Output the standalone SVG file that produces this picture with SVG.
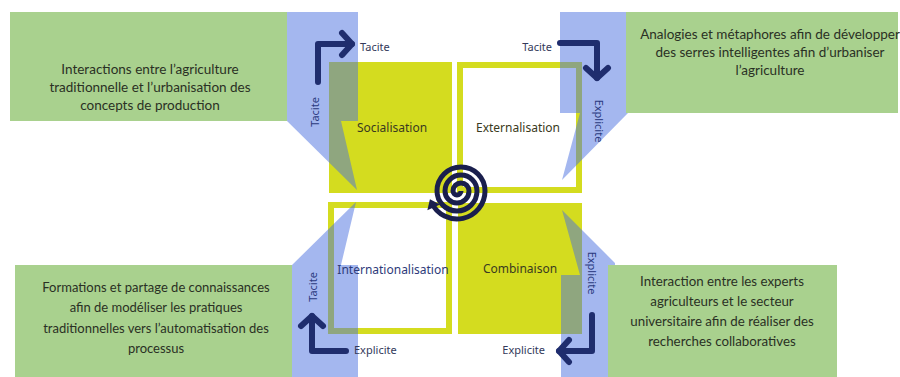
<svg xmlns="http://www.w3.org/2000/svg" width="900" height="377" viewBox="0 0 900 377">
<style>
.green{fill:#a9d18e}
.blue{fill:#4a70e0;fill-opacity:0.5}
.ysolid{fill:#d4dc1f}
.yline{fill:none;stroke:#d4dc1f;stroke-width:6}
.box{font-family:Lato,"Liberation Sans",sans-serif;font-size:13.5px;fill:#2a3024;text-anchor:middle}
.quad{font-family:"Noto Sans","Liberation Sans",sans-serif;font-size:12px;fill:#3a3a20;text-anchor:middle}
.qblue{fill:#2e3b7a}
.lbl{font-family:"Noto Sans","Liberation Sans",sans-serif;font-size:11px;fill:#33395a}
.vlbl{font-family:"Noto Sans","Liberation Sans",sans-serif;font-size:11px;fill:#2b3a80;text-anchor:middle}
.arrow{fill:none;stroke:#1f2d6e;stroke-width:6;stroke-linecap:round;stroke-linejoin:round;marker-end:url(#chev)}
.spiral{fill:none;stroke:#1a1f4d;stroke-width:5;marker-end:url(#shead)}
</style>
<defs>
<marker id="chev" markerUnits="userSpaceOnUse" markerWidth="30" markerHeight="30" viewBox="-15 -15 30 30" refX="0" refY="0" orient="auto">
<path d="M-10,-11 L0,0 L-10,11" fill="none" stroke="#1f2d6e" stroke-width="6" stroke-linecap="round" stroke-linejoin="round"/>
</marker>
<marker id="shead" markerUnits="userSpaceOnUse" markerWidth="20" markerHeight="20" viewBox="-10 -10 20 20" refX="0" refY="0" orient="auto">
<path d="M-5,-7 L4,0 L-5,7 Z" fill="#1a1f4d"/>
</marker>
</defs>
<rect width="900" height="377" fill="#ffffff"/>

<g id="socialisation">
<rect class="ysolid" x="329" y="62" width="123" height="131"/>
</g>
<g id="externalisation">
<rect class="yline" x="460" y="65" width="119" height="125"/>
</g>
<g id="internationalisation">
<rect class="yline" x="331" y="205" width="118" height="126"/>
</g>
<g id="combinaison">
<rect class="ysolid" x="458" y="203" width="124" height="131"/>
</g>

<g id="callout-tl">
<polygon class="blue" points="260,12 358,12 358,121 341,121 357,190 287,121 260,121"/>
<rect class="green" x="10" y="12" width="277" height="109"/>
<text class="box"><tspan x="150" y="74">Interactions entre l’agriculture</tspan><tspan x="150" y="92">traditionnelle et l’urbanisation des</tspan><tspan x="150" y="110">concepts de production</tspan></text>
</g>
<g id="callout-tr">
<polygon class="blue" points="560,12 640,12 640,113 628,113 562,180 580,113 560,113"/>
<rect class="green" x="626" y="12" width="272" height="101"/>
<text class="box"><tspan x="770" y="39">Analogies et métaphores afin de développer</tspan><tspan x="770" y="57">des serres intelligentes afin d’urbaniser</tspan><tspan x="770" y="75">l’agriculture</tspan></text>
</g>
<g id="callout-bl">
<polygon class="blue" points="270,265 292,265 356,202 341,265 358,265 358,377 270,377"/>
<rect class="green" x="15" y="265" width="277" height="112"/>
<text class="box" style="font-size:13px"><tspan x="156" y="292">Formations et partage de connaissances</tspan><tspan x="156" y="312">afin de modéliser les pratiques</tspan><tspan x="156" y="333">traditionnelles vers l’automatisation des</tspan><tspan x="156" y="353">processus</tspan></text>
</g>
<g id="callout-br">
<polygon class="blue" points="561,275 580,275 562,210 615,263 615,377 561,377"/>
<rect class="green" x="608" y="265" width="229" height="112"/>
<text class="box" style="font-size:13.3px"><tspan x="722" y="286">Interaction entre les experts</tspan><tspan x="722" y="306">agriculteurs et le secteur</tspan><tspan x="722" y="326">universitaire afin de réaliser des</tspan><tspan x="722" y="346">recherches collaboratives</tspan></text>
</g>

<g id="quadrant-labels">
<text class="quad" x="392" y="132">Socialisation</text>
<text class="quad" x="518" y="132">Externalisation</text>
<text class="quad qblue" x="393" y="274">Internationalisation</text>
<text class="quad" x="520" y="273">Combinaison</text>
</g>

<g id="connectors">
<path class="arrow" d="M318,82 V44 H352"/>
<path class="arrow" d="M560,43 H597 V78"/>
<path class="arrow" d="M592,315 V351 H559"/>
<path class="arrow" d="M346,351 H312 V316"/>
<text class="lbl" x="360" y="51">Tacite</text>
<text class="lbl" x="552" y="51" text-anchor="end">Tacite</text>
<text class="lbl" x="545" y="354" text-anchor="end">Explicite</text>
<text class="lbl" x="354" y="354">Explicite</text>
<text class="vlbl" transform="translate(315,112) rotate(-90)" y="4">Tacite</text>
<text class="vlbl" transform="translate(599,121) rotate(90)" y="4">Explicite</text>
<text class="vlbl" transform="translate(592,273) rotate(90)" y="4">Explicite</text>
<text class="vlbl" transform="translate(313,287) rotate(-90)" y="4">Tacite</text>
</g>

<g id="spiral">
<path class="spiral" d="M461,191 A4,4 0 0 1 453,191 A8,8 0 0 1 469,191 A12,12 0 0 1 445,191 A16,16 0 0 1 477,191 A20,20 0 0 1 437,191 A24,24 0 0 1 485,191 A28,28 0 0 1 431.6,202.8"/>
</g>
</svg>
